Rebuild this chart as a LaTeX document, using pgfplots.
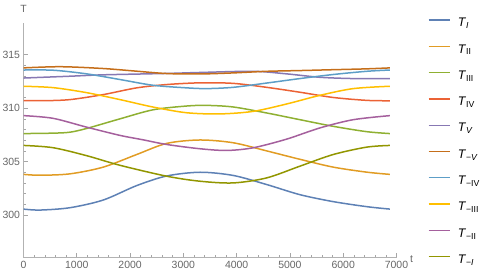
\documentclass[border=0pt]{standalone}
\usepackage{fontspec}
\setmainfont{Liberation Sans}
\usepackage{pgfplots}
\pgfplotsset{compat=1.18}
\definecolor{c1}{RGB}{94,129,181}
\definecolor{c2}{RGB}{225,156,36}
\definecolor{c3}{RGB}{143,176,50}
\definecolor{c4}{RGB}{235,98,53}
\definecolor{c5}{RGB}{135,120,179}
\definecolor{c6}{RGB}{197,110,26}
\definecolor{c7}{RGB}{93,158,199}
\definecolor{c8}{RGB}{255,191,0}
\definecolor{c9}{RGB}{165,96,157}
\definecolor{c10}{RGB}{146,150,0}
\begin{document}
\begin{tikzpicture}
\begin{axis}[
  at={(23.5bp,21.3bp)}, anchor=south west,
  scale only axis, width=373bp, height=235bp,
  xmin=0, xmax=7000, ymin=296, ymax=318,
  axis lines*=left,
  axis line style={draw=black!30, line width=0.7bp},
  every tick/.style={draw=black!35, line width=0.6bp},
  major tick length=4.5bp, minor tick length=2.5bp,
  xtick={0,1000,...,7000}, minor x tick num=4,
  ytick={300,305,310,315}, minor y tick num=4,
  scaled x ticks=false,
  /pgf/number format/assume math mode=true,
  /pgf/number format/1000 sep={},
  tick label style={font=\fontsize{10.5}{12}\selectfont, text=black!60},
  xlabel={t}, ylabel={T},
  every axis x label/.style={at={(rel axis cs:1,0)}, anchor=west, xshift=10bp, yshift=-1bp, font=\fontsize{10.5}{12}\selectfont, text=black!60},
  every axis y label/.style={at={(rel axis cs:0,1)}, anchor=south, yshift=7bp, font=\fontsize{10.5}{12}\selectfont, text=black!60},
  every axis plot/.append style={line width=1.5bp, smooth, no marks},
  legend image code/.code={\draw[#1, line width=1.3bp] (0bp,4.2bp) -- (21.6bp,4.2bp);},
  legend cell align=left,
  legend style={at={(axis description cs:1.0836,1.022)}, anchor=north west, draw=none, fill=none, inner sep=0pt,
    font=\fontsize{12.5}{14}\selectfont, column sep=7bp, row sep=13.3bp,
    nodes={inner sep=0pt, text height=9bp, text depth=4bp}},
]
\addplot[c1] coordinates {(0,300.55)(310,300.46)(872,300.68)(1497,301.4)(2124,302.75)(2687,303.65)(3311,304.0)(3936,303.7)(4563,302.85)(5188,301.9)(5812,301.25)(6439,300.78)(6876,300.55)};
\addlegendentry{\textit{T}\textsubscript{\textit{I}}}
\addplot[c2] coordinates {(0,303.8)(310,303.72)(872,303.85)(1497,304.48)(2124,305.66)(2687,306.7)(3311,307.02)(3936,306.76)(4563,306.0)(5188,305.21)(5812,304.48)(6439,304.01)(6876,303.8)};
\addlegendentry{\textit{T}\textsubscript{II}}
\addplot[c3] coordinates {(0,307.62)(559,307.66)(872,307.75)(1186,308.1)(1811,309.0)(2435,309.85)(3062,310.2)(3437,310.26)(3936,310.11)(4563,309.55)(5188,308.92)(5812,308.3)(6439,307.8)(6876,307.62)};
\addlegendentry{\textit{T}\textsubscript{III}}
\addplot[c4] coordinates {(0,310.7)(400,310.7)(872,310.8)(1497,311.27)(2124,311.9)(2687,312.21)(3311,312.37)(3936,312.32)(4563,311.95)(5188,311.49)(5812,311.0)(6439,310.73)(6876,310.69)};
\addlegendentry{\textit{T}\textsubscript{IV}}
\addplot[c5] coordinates {(0,312.82)(872,312.99)(1497,313.12)(2687,313.25)(3311,313.34)(4311,313.45)(4938,313.21)(5563,312.89)(6188,312.77)(6876,312.76)};
\addlegendentry{\textit{T}\textsubscript{\textit{V}}}
\addplot[c6] coordinates {(0,313.77)(700,313.88)(1497,313.71)(2124,313.46)(2687,313.24)(3311,313.2)(3936,313.3)(4563,313.45)(5188,313.52)(5812,313.6)(6439,313.68)(6876,313.77)};
\addlegendentry{\textit{T}\textsubscript{−\textit{V}}}
\addplot[c7] coordinates {(0,313.57)(559,313.55)(1186,313.21)(1811,312.68)(2435,312.14)(3062,311.9)(3437,311.83)(3936,311.95)(4563,312.35)(5188,312.77)(5812,313.15)(6439,313.45)(6876,313.57)};
\addlegendentry{\textit{T}\textsubscript{−IV}}
\addplot[c8] coordinates {(0,312.05)(559,311.92)(1186,311.45)(1811,310.8)(2435,310.1)(3062,309.57)(3687,309.46)(4311,309.7)(4938,310.39)(5563,311.2)(6188,311.83)(6876,312.05)};
\addlegendentry{\textit{T}\textsubscript{−III}}
\addplot[c9] coordinates {(0,309.3)(553,309.05)(1186,308.22)(1811,307.45)(2240,307.04)(2687,306.6)(3311,306.2)(3812,306.04)(4311,306.29)(4938,307.1)(5563,308.15)(6188,308.92)(6876,309.3)};
\addlegendentry{\textit{T}\textsubscript{−II}}
\addplot[c10] coordinates {(0,306.51)(553,306.3)(1186,305.55)(1811,304.65)(2687,303.63)(3311,303.16)(3936,303.0)(4563,303.47)(5188,304.57)(5812,305.66)(6439,306.35)(6876,306.51)};
\addlegendentry{\textit{T}\textsubscript{−\textit{I}}}
\end{axis}
\pgfresetboundingbox
\path[use as bounding box] (0,0) rectangle (491bp,279bp);
\end{tikzpicture}
\end{document}
